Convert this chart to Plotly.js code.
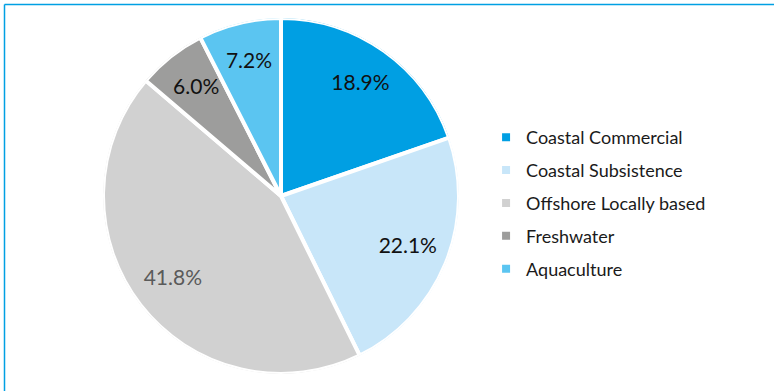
<!DOCTYPE html>
<html>
<head>
<meta charset="utf-8">
<script src="https://cdn.plot.ly/plotly-3.0.1.min.js"></script>
<style>
html,body{margin:0;padding:0;background:#fff;}
#chart{width:774px;height:391px;}
</style>
</head>
<body>
<div id="chart"></div>
<script>
const categories = ["Coastal Commercial", "Coastal Subsistence", "Offshore Locally based", "Freshwater", "Aquaculture"];
const shares = [18.9, 22.1, 41.8, 6.0, 7.2];
const sliceColors = ["#009fe3", "#c8e6f9", "#d1d1d1", "#9d9d9c", "#5bc5f1"];
const labelColors = ["#111111", "#111111", "#5a5a5a", "#111111", "#111111"];

// Slices: angular position/width derived from the shares (normalised to the full circle)
const total = shares.reduce((a, b) => a + b, 0);
const widths = shares.map(v => v / total * 360);
const mids = [];
let acc = 0;
widths.forEach(w => { mids.push(acc + w / 2); acc += w; });

const FONT = "Lato, 'Open Sans', sans-serif";

const traces = categories.map((name, i) => ({
  type: "barpolar",
  name: name,
  legendgroup: name,
  r: [1],
  theta: [mids[i]],
  width: [widths[i]],
  base: 0,
  marker: {color: sliceColors[i], line: {color: "#ffffff", width: [4]}},
  hoverinfo: "name"
}));

traces.push({
  type: "scatterpolar",
  mode: "text",
  r: shares.map(() => 0.77),
  theta: mids,
  text: shares.map(v => v.toFixed(1) + "%"),
  textposition: "middle center",
  textfont: {family: FONT, size: 21, color: labelColors},
  showlegend: false,
  hoverinfo: "skip"
});

const layout = {
  width: 774,
  height: 391,
  margin: {l: 0, r: 0, t: 0, b: 0},
  paper_bgcolor: "#ffffff",
  showlegend: true,
  polar: {
    domain: {x: [103/774, 459/774], y: [17/391, 373/391]},
    bgcolor: "rgba(0,0,0,0)",
    hole: 0,
    radialaxis: {visible: false, range: [0, 1]},
    angularaxis: {visible: false, rotation: 90, direction: "clockwise"}
  },
  legend: {
    x: 0.628, y: 0.481, xanchor: "left", yanchor: "middle",
    font: {family: FONT, size: 18, color: "#1a1a1a"},
    itemwidth: 30, tracegroupgap: 6.5,
    traceorder: "grouped",
    bgcolor: "rgba(0,0,0,0)"
  },
  shapes: [
    {type: "line", xref: "paper", yref: "paper", x0: 4.5/774, x1: 4.5/774, y0: 0, y1: (391-4.5)/391, line: {color: "#00a0e3", width: 1.5}},
    {type: "line", xref: "paper", yref: "paper", x0: 4.5/774, x1: 1, y0: (391-4.5)/391, y1: (391-4.5)/391, line: {color: "#00a0e3", width: 1.5}}
  ]
};

Plotly.newPlot("chart", traces, layout, {displayModeBar: false, staticPlot: true});
</script>
</body>
</html>
